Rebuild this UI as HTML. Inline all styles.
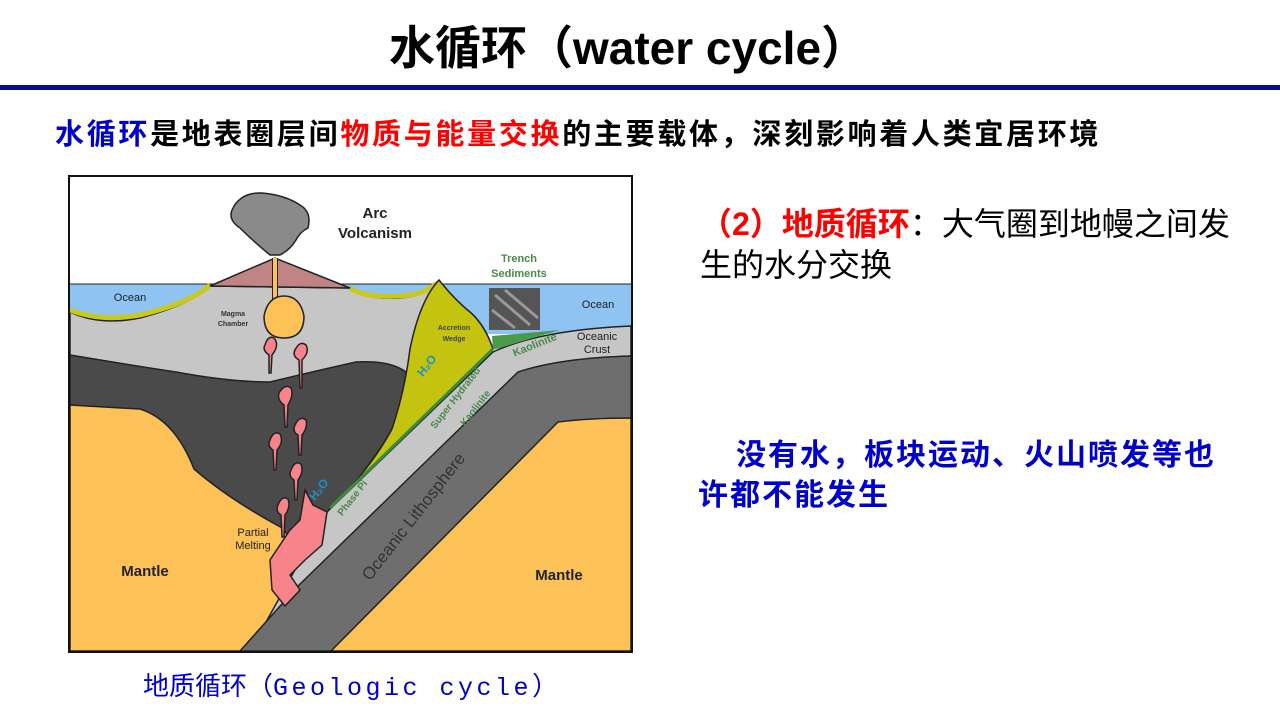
<!DOCTYPE html>
<html><head><meta charset="utf-8"><style>
body{margin:0;width:1280px;height:720px;background:#fff;overflow:hidden;position:relative;font-family:"Liberation Sans","Noto Sans CJK SC",sans-serif}
.t{position:absolute;white-space:nowrap}
</style></head><body>
<div class="t" style="left:0;width:1256px;text-align:center;top:20px;font-size:46px;font-weight:bold;line-height:56px">水循环（water cycle）</div>
<div style="position:absolute;left:0;top:85px;width:1280px;height:5px;background:#0a0a9a"></div>
<div class="t" style="left:55px;top:116px;font-size:29px;font-weight:bold;line-height:38px;letter-spacing:2.7px"><span style="color:#0000cc">水循环</span>是地表圈层间<span style="color:#ff0000">物质与能量交换</span>的主要载体，深刻影响着人类宜居环境</div>
<div class="t" style="left:700px;top:204px;font-size:32px;line-height:41px"><span style="color:#ff0000;font-weight:bold">（2）地质循环</span>：大气圈到地幔之间发<br>生的水分交换</div>
<div class="t" style="left:736px;top:436px;font-size:30px;line-height:40px;color:#0000cc;font-weight:bold;letter-spacing:2px">没有水，板块运动、火山喷发等也</div>
<div class="t" style="left:698px;top:476px;font-size:30px;line-height:40px;color:#0000cc;font-weight:bold;letter-spacing:2px">许都不能发生</div>
<div class="t" style="left:143px;top:669px;font-size:26px;line-height:34px;color:#0000cc">地质循环（<span style="font-family:'Liberation Mono',monospace;font-size:25px;letter-spacing:3.5px">Geologic cycle</span>）</div>
<svg style="position:absolute;left:0;top:0" width="1280" height="720" viewBox="0 0 1280 720">
<defs><clipPath id="c"><rect x="70" y="177" width="561" height="474"/></clipPath></defs>
<g clip-path="url(#c)" stroke="#222" stroke-width="1.5">
<rect x="70" y="177" width="561" height="474" fill="#fff" stroke="none"/>
<rect x="70" y="284" width="561" height="50" fill="#8fc3f2" stroke="none"/>
<line x1="70" y1="284" x2="631" y2="284" stroke-width="1"/>
<path d="M70,312 Q100,326 140,318 Q190,305 210,286 L350,288 Q365,300 400,298 Q428,296 437,282 L493,349 L327,512 L240,640 L70,640Z" fill="#c6c6c6"/>
<path d="M70,355 Q130,365 176,372 Q230,382 270,382 Q320,370 356,362 Q390,360 406,372 L400,420 L330,520 L280,570 L240,600 L70,600Z" fill="#4a4a4a"/>
<path d="M70,405 L140,409 Q175,420 194,469 Q230,500 284,529 L300,560 L300,651 L70,651Z" fill="#fcc257"/>
<path d="M70,310 Q100,322 140,315 Q190,303 210,285" fill="none" stroke="#c8c81e" stroke-width="5"/>
<path d="M350,288 Q365,298 400,296 Q428,294 436,283" fill="none" stroke="#c8c81e" stroke-width="5"/>
<path d="M210,286 L275,258 L350,288Z" fill="#c08484"/>
<path d="M275,258 L275,300" stroke="#222" stroke-width="6"/>
<path d="M275,258 L275,300" stroke="#fcc257" stroke-width="4"/>
<path d="M284,296 Q300,296 304,316 Q304,338 284,338 Q264,338 264,316 Q268,296 284,296Z" fill="#fcc257"/>
<path d="M232,210 Q240,192 262,193 Q285,195 300,205 Q312,212 308,228 Q300,232 296,240 Q290,250 280,255 L270,255 Q252,240 240,228 Q228,220 232,210Z" fill="#8a8a8a"/>
<path d="M327,512 L493,352 Q540,330 631,326 L631,651 L250,651Z" fill="#c6c6c6"/>
<path d="M298,586 L518,372 Q560,358 631,356 L631,651 L240,651Z" fill="#6e6e6e"/>
<path d="M331,651 L558,422 Q590,418 631,418 L631,651Z" fill="#fcc257"/>
<path d="M439,280 Q455,300 470,312 Q485,325 493,349 L330,508 Q370,470 392,429 Q405,390 410,349 Q420,300 439,280Z" fill="#c4c410"/>
<path d="M493,349 L330,508" stroke="#3d8a3d" stroke-width="3"/>
<path d="M492,336 L560,330 L493,350Z" fill="#4a9a4a" stroke="none"/>
<rect x="489" y="288" width="51" height="42" fill="#555" stroke="none"/>
<path d="M495,295 L530,325 M505,290 L538,318 M492,310 L515,328" stroke="#999" stroke-width="3"/>
<path d="M305,490 L313,505 L327,512 L322,545 L305,560 L290,575 L300,590 L285,606 L272,590 L270,560 L290,530 L300,520Z" fill="#f7848a"/>
<g fill="#f7848a">
<path d="M265,345 Q268,335 274,338 Q280,345 272,355 L271,373 L269,373 L269,355 Q262,350 265,345Z"/>
<path d="M295,350 Q300,340 306,345 Q310,352 302,360 L302,388 L300,388 L299,360 Q292,356 295,350Z"/>
<path d="M279,393 Q285,383 291,388 Q294,395 288,405 L287,427 L285,427 L284,405 Q277,400 279,393Z"/>
<path d="M295,425 Q300,415 306,420 Q308,427 302,435 L301,455 L299,455 L298,435 Q292,432 295,425Z"/>
<path d="M270,440 Q274,430 280,434 Q284,442 277,450 L276,470 L274,470 L273,450 Q267,446 270,440Z"/>
<path d="M291,470 Q295,460 301,464 Q304,472 298,480 L297,500 L295,500 L294,480 Q288,476 291,470Z"/>
<path d="M278,505 Q282,495 288,499 Q291,507 285,515 L284,537 L282,537 L281,515 Q275,511 278,505Z"/>
</g>
</g>
<rect x="69" y="176" width="563" height="476" fill="none" stroke="#111" stroke-width="2"/>
<g font-family="Liberation Sans,sans-serif" font-weight="bold" text-anchor="middle">
<text x="375" y="218" font-size="15" fill="#222">Arc</text>
<text x="375" y="238" font-size="15" fill="#222">Volcanism</text>
<text x="519" y="262" font-size="11" fill="#4a8a4a">Trench</text>
<text x="519" y="277" font-size="11" fill="#4a8a4a">Sediments</text>
<text x="130" y="301" font-size="11" fill="#222" font-weight="normal">Ocean</text>
<text x="598" y="308" font-size="11" fill="#222" font-weight="normal">Ocean</text>
<text x="233" y="316" font-size="7" fill="#333">Magma</text>
<text x="233" y="326" font-size="7" fill="#333">Chamber</text>
<text x="454" y="330" font-size="7" fill="#444">Accretion</text>
<text x="454" y="341" font-size="7" fill="#444">Wedge</text>
<text x="597" y="340" font-size="11" fill="#222" font-weight="normal">Oceanic</text>
<text x="597" y="353" font-size="11" fill="#222" font-weight="normal">Crust</text>
<text x="145" y="576" font-size="15" fill="#222">Mantle</text>
<text x="559" y="580" font-size="15" fill="#222">Mantle</text>
<text x="253" y="536" font-size="11" fill="#222" font-weight="normal">Partial</text>
<text x="253" y="549" font-size="11" fill="#222" font-weight="normal">Melting</text>
<text transform="translate(536,348) rotate(-22)" font-size="11" fill="#4a8a4a">Kaolinite</text>
<text transform="translate(458,400) rotate(-52)" font-size="10" fill="#4a8a4a">Super Hydrated</text>
<text transform="translate(478,410) rotate(-52)" font-size="10" fill="#4a8a4a">Kaolinite</text>
<text transform="translate(355,500) rotate(-52)" font-size="10" fill="#4a8a4a">Phase Pi</text>
<text transform="translate(418,520) rotate(-52)" font-size="17" fill="#333" font-weight="normal">Oceanic Lithosphere</text>
<text transform="translate(430,368) rotate(-52)" font-size="12" fill="#2090c8">H₂O</text>
<text transform="translate(322,492) rotate(-52)" font-size="12" fill="#2090c8">H₂O</text>
</g>
</svg>
</body></html>
